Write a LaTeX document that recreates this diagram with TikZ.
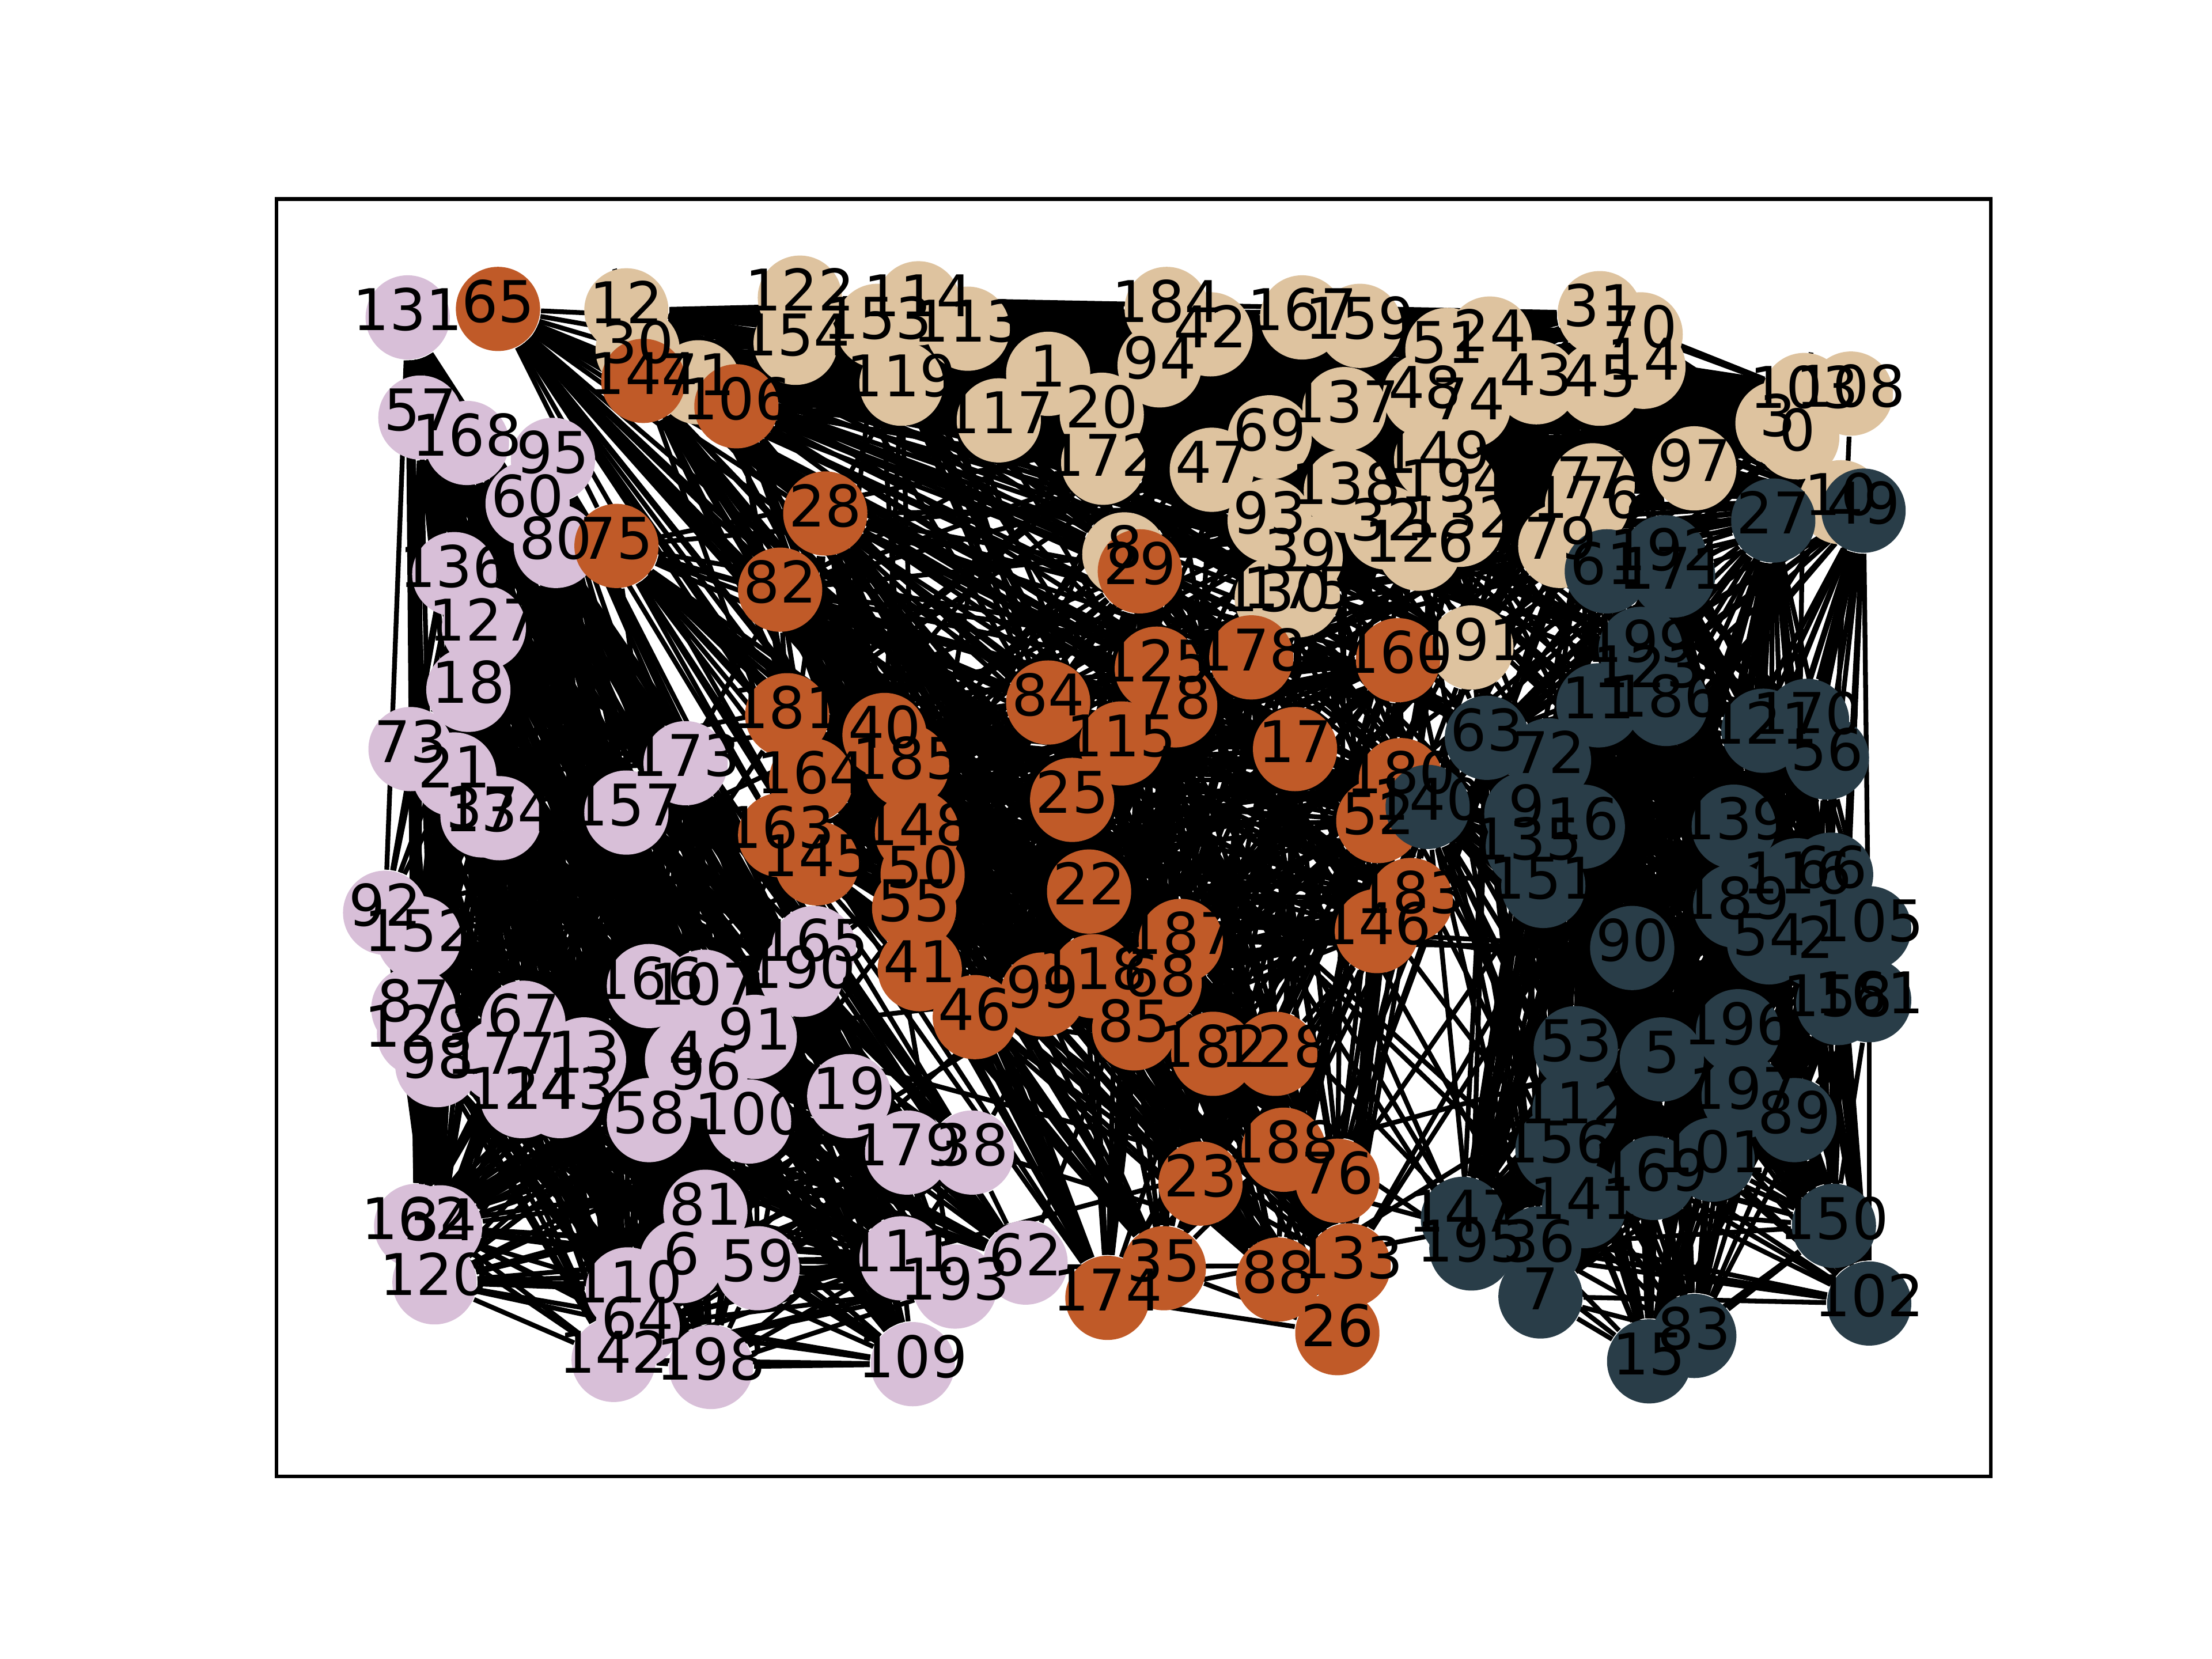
\documentclass[tikz,border=0pt]{standalone}
\usepackage{fontspec}
\setmainfont{DejaVu Sans}
\usetikzlibrary{backgrounds}
\definecolor{lilacc}{HTML}{D8BFD8}
\definecolor{tanc}{HTML}{DEC39F}
\definecolor{rustc}{HTML}{C05A28}
\definecolor{slatec}{HTML}{293D48}

% node id / x / y (pixel grid of the picture)
\def\lilacnodes{131/289/225, 57/298/296, 168/331/314, 95/392/326, 60/374/357,
  80/394/387, 136/322/407, 127/343/445, 18/332/489, 73/291/531, 21/322/549,
  37/342/578, 134/354/580, 157/444/576, 173/486/541, 92/273/647, 152/297/665,
  87/293/715, 129/297/733, 98/310/755, 67/371/725, 177/355/752, 13/414/751,
  124/370/777, 143/397/777, 166/460/699, 107/499/703, 91/535/735, 4/487/751,
  96/500/763, 58/460/794, 100/531/795, 165/577/672, 190/568/691, 19/602/777,
  179/643/817, 38/689/817, 111/639/892, 193/677/912, 62/727/895, 109/647/967,
  59/537/899, 81/500/859, 6/483/894, 110/445/914, 64/452/940, 142/435/964,
  198/504/969, 162/295/869, 34/312/870, 120/308/909}
\def\tannodes{12/444/220, 30/452/248, 71/495/271, 122/567/211, 154/564/243,
  153/622/231, 114/651/215, 113/686/233, 119/639/272, 1/743/265, 117/708/298,
  20/781/294, 172/782/328, 184/827/219, 42/858/237, 94/822/259, 47/859/333,
  167/923/225, 159/964/231, 51/1026/248, 24/1056/240, 31/1134/222, 70/1163/237,
  14/1165/260, 43/1089/271, 45/1134/272, 137/953/290, 48/1010/280, 74/1041/288,
  69/900/310, 138/954/348, 149/1018/326, 194/1031/346, 93/900/369, 39/922/395,
  130/905/424, 175/920/422, 77/1129/344, 176/1125/358, 79/1106/387,
  191/1043/459, 97/1201/332, 103/1279/280, 108/1312/279, 3/1260/300,
  0/1274/310, 10/1305/356, 126/1006/389, 32/983/374, 132/1035/372, 8/797/393}
\def\rustnodes{65/353/219, 144/456/270, 106/522/288, 75/437/387, 28/585/364,
  82/553/418, 29/808/405, 125/820/474, 178/887/466, 160/991/468, 84/743/498,
  181/558/507, 40/627/521, 164/575/553, 185/643/543, 163/553/592, 145/579/612,
  148/650/590, 50/654/620, 55/648/644, 41/652/687, 46/691/721, 99/739/705,
  118/775/692, 68/822/697, 85/804/729, 187/837/667, 25/760/567, 22/772/632,
  115/795/527, 78/833/500, 17/918/531, 180/993/553, 52/977/582, 183/1000/638,
  146/976/660, 182/860/747, 128/904/747, 174/785/920, 35/825/899, 23/851/839,
  188/910/815, 76/948/837, 133/956/897, 88/906/907, 26/948/945}
\def\slatenodes{27/1257/369, 49/1321/362, 61/1139/405, 192/1180/395,
  171/1186/408, 199/1163/460, 123/1168/478, 11/1133/500, 186/1181/499,
  63/1054/523, 72/1098/539, 140/1012/572, 9/1082/577, 16/1122/586,
  135/1083/600, 151/1094/628, 121/1250/518, 170/1281/511, 56/1295/537,
  139/1229/586, 189/1230/642, 116/1274/624, 66/1298/620, 54/1254/668,
  2/1287/670, 105/1325/658, 158/1303/711, 161/1325/709, 90/1157/672,
  53/1117/743, 5/1178/751, 196/1232/731, 197/1236/777, 89/1272/794,
  101/1214/822, 169/1172/835, 112/1116/787, 156/1104/815, 141/1123/855,
  147/1037/864, 195/1043/885, 36/1091/885, 7/1092/919, 150/1300/869,
  102/1325/924, 83/1201/947, 15/1169/965}

% random links inside one group (#2 per mille)
\newcommand\linkwithin[2]{%
  \foreach \a/\ax/\ay [count=\i] in #1 {
    \foreach \b/\bx/\by [count=\j] in #1 {
      \ifnum\j>\i
        \pgfmathrandominteger{\pick}{0}{999}%
        \ifnum\pick<#2 \draw[link] (n\a) -- (n\b);\fi
      \fi
    }
  }%
}
% random links between two groups
\newcommand\linkacross[3]{%
  \foreach \a/\ax/\ay in #1 {
    \foreach \b/\bx/\by in #2 {
      \pgfmathrandominteger{\pick}{0}{999}%
      \ifnum\pick<#3 \draw[link] (n\a) -- (n\b);\fi
    }
  }%
}

\begin{document}
\begin{tikzpicture}[x=0.010367cm, y=-0.010367cm,
  vertex/.style={circle,minimum size=17.6pt,inner sep=0pt,fill=#1},
  vlabel/.style={inner sep=0pt,text height=0.73em,text depth=0.18em,
    font=\fontsize{12}{14}\selectfont},
  link/.style={line width=1pt,black},
]
  \useasboundingbox (0,0) rectangle (1568,1176);

  % circles
  \foreach \a/\x/\y in \lilacnodes {\node[vertex=lilacc] (n\a) at (\x,\y) {};}
  \foreach \a/\x/\y in \tannodes {\node[vertex=tanc] (n\a) at (\x,\y) {};}
  \foreach \a/\x/\y in \rustnodes {\node[vertex=rustc] (n\a) at (\x,\y) {};}
  \foreach \a/\x/\y in \slatenodes {\node[vertex=slatec] (n\a) at (\x,\y) {};}

  % axes frame
  \draw[line width=0.8pt] (196,141.1) rectangle (1411.2,1046.6);

  % links
  \begin{scope}[on background layer]
    \pgfmathsetseed{11}
    \linkwithin{\lilacnodes}{620}
    \linkwithin{\tannodes}{620}
    \linkwithin{\rustnodes}{580}
    \linkwithin{\slatenodes}{700}
    \linkacross{\tannodes}{\rustnodes}{45}
    \linkacross{\tannodes}{\slatenodes}{30}
    \linkacross{\rustnodes}{\slatenodes}{6}
    \linkacross{\lilacnodes}{\rustnodes}{7}
    \linkacross{\lilacnodes}{\tannodes}{4}
    \linkacross{\lilacnodes}{\slatenodes}{1}
  \end{scope}

  % labels
  \foreach \a/\x/\y in \lilacnodes {\node[vlabel] (t\a) at (n\a) {\a};}
  \foreach \a/\x/\y in \tannodes {\node[vlabel] (t\a) at (n\a) {\a};}
  \foreach \a/\x/\y in \rustnodes {\node[vlabel] (t\a) at (n\a) {\a};}
  \foreach \a/\x/\y in \slatenodes {\node[vlabel] (t\a) at (n\a) {\a};}
\end{tikzpicture}
\end{document}
